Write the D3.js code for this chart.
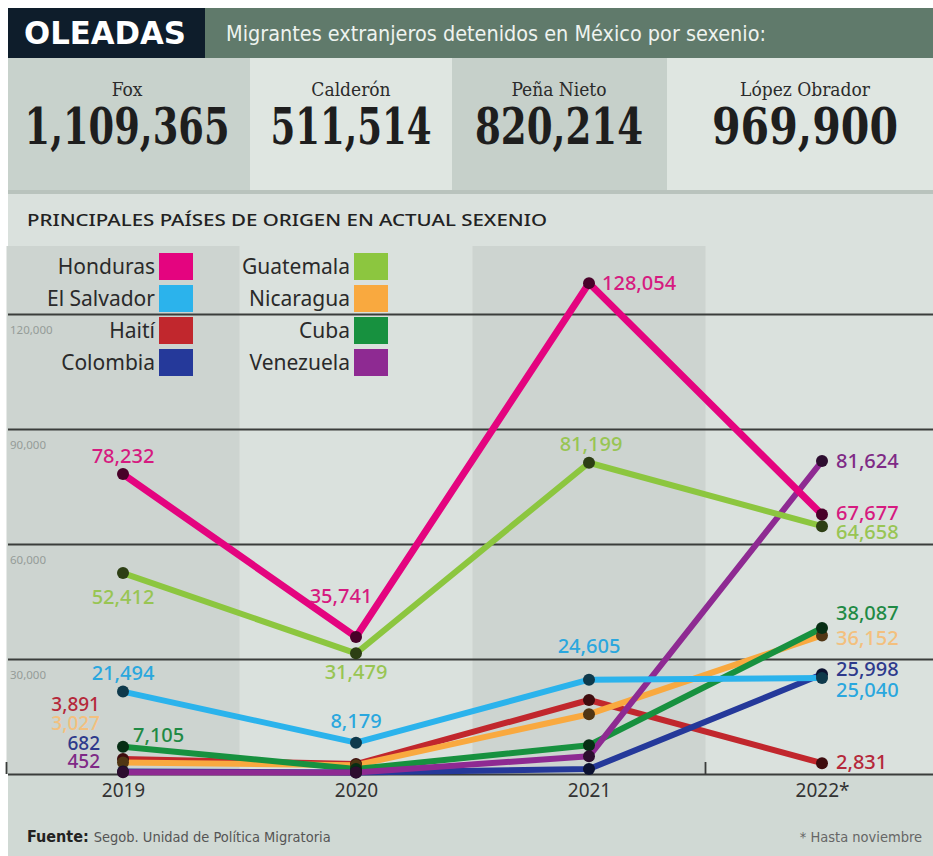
<!DOCTYPE html>
<html>
<head>
<meta charset="utf-8">
<script src="https://cdn.jsdelivr.net/npm/d3@7"></script>
<style>
  body { margin: 0; background: #fff; }
  svg { display: block; }
</style>
</head>
<body>
<svg width="933" height="856"></svg>
<script>
// Migrantes extranjeros detenidos, por sexenio y por país de origen
var sexenios = ["Fox", "Calderón", "Peña Nieto", "López Obrador"];
var totales = [1109365, 511514, 820214, 969900];

var years = ["2019", "2020", "2021", "2022*"];

var honduras   = [78232, 35741, 128054, 67677];
var guatemala  = [52412, 31479, 81199, 64658];
var elSalvador = [21494, 8179, 24605, 25040];
var haiti      = [3891, 2600, 19300, 2831];
var nicaragua  = [3027, 2300, 15600, 36152];
var cuba       = [7105, 1300, 7500, 38087];
var colombia   = [682, 400, 1300, 25998];
var venezuela  = [452, 400, 4600, 81624];

var yTicks = [0, 30000, 60000, 90000, 120000];

var series = [
  {name: "Haití", values: haiti, color: "#c1272d", label: "#b5283a"},
  {name: "Nicaragua", values: nicaragua, color: "#f9a93f", label: "#f3c07e"},
  {name: "Cuba", values: cuba, color: "#17913f", label: "#1f8a45"},
  {name: "Colombia", values: colombia, color: "#25399a", label: "#2e3a8c"},
  {name: "Venezuela", values: venezuela, color: "#8e2a92", label: "#7f2a86"},
  {name: "El Salvador", values: elSalvador, color: "#2bb3ec", label: "#2aa7de"},
  {name: "Guatemala", values: guatemala, color: "#8cc63f", label: "#98c553"},
  {name: "Honduras", values: honduras, color: "#e4047f", label: "#d61a80"}
];

var legendLeft = ["Honduras", "El Salvador", "Haití", "Colombia"];
var legendRight = ["Guatemala", "Nicaragua", "Cuba", "Venezuela"];

// where each value label sits relative to its point (null = no label)
var labelPos = {
  "Honduras":    [[0, -18, "middle"], [-15, -41, "middle"], [13, 0, "start"], [14, -2, "start"]],
  "Guatemala":   [[0, 24, "middle"], [0, 19, "middle"], [2, -19, "middle"], [14, 6, "start"]],
  "El Salvador": [[0, -19, "middle"], [0, -22, "middle"], [0, -34, "middle"], [14, 12, "start"]],
  "Haití":       [[-23, -55, "end"], null, null, [14, -1, "start"]],
  "Nicaragua":   [[-23, -39, "end"], null, null, [14, 3, "start"]],
  "Cuba":        [[10, -12, "start"], null, null, [14, -15, "start"]],
  "Colombia":    [[-23, -28, "end"], null, null, [14, -5, "start"]],
  "Venezuela":   [[-23, -11, "end"], null, null, [14, 0, "start"]]
};

var svg = d3.select("svg"),
    width = +svg.attr("width"),
    height = +svg.attr("height");

var sans = "'Noto Sans', 'Open Sans', sans-serif";
var narrow = "'Liberation Sans Narrow', 'DejaVu Sans Condensed', sans-serif";
var slab = "'DejaVu Serif Condensed', 'DejaVu Serif', serif";

var x = d3.scalePoint()
    .domain(years)
    .range([123, 822]);

var y = d3.scaleLinear()
    .domain([0, 120000])
    .range([774, 314]);

var colorOf = {};
series.forEach(function(s) { colorOf[s.name] = s.color; });

// backgrounds
svg.append("rect").attr("x", 8).attr("y", 8).attr("width", width - 8).attr("height", height - 8)
    .attr("fill", "#dae1dd");
svg.append("rect").attr("x", 8).attr("y", 774).attr("width", width - 8).attr("height", height - 774)
    .attr("fill", "#d0d9d4");

// header
svg.append("rect").attr("x", 8).attr("y", 8).attr("width", 197).attr("height", 50).attr("fill", "#0e1d2b");
svg.append("rect").attr("x", 205).attr("y", 8).attr("width", width - 205).attr("height", 50).attr("fill", "#607a6b");
svg.append("text").attr("x", 24).attr("y", 44)
    .attr("font-family", narrow).attr("font-weight", "bold").attr("font-size", 32)
    .attr("fill", "#fff").attr("textLength", 162).attr("lengthAdjust", "spacingAndGlyphs")
    .text("OLEADAS");
svg.append("text").attr("x", 226).attr("y", 41)
    .attr("font-family", narrow).attr("font-size", 21)
    .attr("fill", "#eef3ef").attr("textLength", 540).attr("lengthAdjust", "spacingAndGlyphs")
    .text("Migrantes extranjeros detenidos en México por sexenio:");

// sexenio panels
var panelX = [8, 250, 452, 667, 933];
var panelFill = ["#c8d2cc", "#dfe6e1", "#c6d0ca", "#dfe6e1"];
var numWidth = [205, 161, 168, 186];
var panels = svg.append("g").selectAll("g")
  .data(sexenios)
  .enter().append("g");
panels.append("rect")
    .attr("x", function(d, i) { return panelX[i]; })
    .attr("y", 58)
    .attr("width", function(d, i) { return panelX[i + 1] - panelX[i]; })
    .attr("height", 134)
    .attr("fill", function(d, i) { return panelFill[i]; });
var centers = [127, 351, 559, 805];
panels.append("text")
    .attr("x", function(d, i) { return centers[i]; })
    .attr("y", 96)
    .attr("text-anchor", "middle")
    .attr("font-family", slab).attr("font-size", 19).attr("fill", "#2b2b2b")
    .text(function(d) { return d; });
panels.append("text")
    .attr("x", function(d, i) { return centers[i]; })
    .attr("y", 144)
    .attr("text-anchor", "middle")
    .attr("font-family", slab).attr("font-weight", "bold").attr("font-size", 50)
    .attr("fill", "#1e1e1e")
    .attr("textLength", function(d, i) { return numWidth[i]; })
    .attr("lengthAdjust", "spacingAndGlyphs")
    .text(function(d, i) { return d3.format(",")(totales[i]); });
svg.append("rect").attr("x", 8).attr("y", 190).attr("width", width - 8).attr("height", 4)
    .attr("fill", "#b9c3bd");

svg.append("text").attr("x", 27).attr("y", 226)
    .attr("font-family", sans).attr("font-weight", 500).attr("font-size", 17)
    .attr("fill", "#222").attr("textLength", 520).attr("lengthAdjust", "spacingAndGlyphs")
    .text("PRINCIPALES PAÍSES DE ORIGEN EN ACTUAL SEXENIO");

// shaded year columns (2019, 2021)
var step = x.step();
svg.append("g").selectAll("rect")
  .data([years[0], years[2]])
  .enter().append("rect")
    .attr("x", function(d) { return x(d) - step / 2; })
    .attr("y", 246)
    .attr("width", step)
    .attr("height", 774 - 246)
    .attr("fill", "#cdd4d0");

// gridlines and y labels
var yAxis = svg.append("g")
    .attr("transform", "translate(8,0)")
    .call(d3.axisRight(y).tickValues(yTicks).tickSize(width - 8).tickFormat(d3.format(",")));
yAxis.select(".domain").remove();
yAxis.selectAll("line").attr("stroke", "#3a3d3b").attr("stroke-width", 1.8);
yAxis.selectAll("text")
    .attr("x", 2).attr("dy", 19)
    .attr("font-family", sans).attr("font-size", 11.5)
    .attr("fill", "#959c98")
    .style("display", function(d) { return d === 0 ? "none" : null; });

// small ticks on baseline
svg.append("g").selectAll("line")
  .data([x(years[0]) - step / 2, x(years[2]) + step / 2])
  .enter().append("line")
    .attr("x1", function(d) { return d; }).attr("x2", function(d) { return d; })
    .attr("y1", 762).attr("y2", 774)
    .attr("stroke", "#3a3d3b").attr("stroke-width", 1.8);

// x axis labels
var xAxis = svg.append("g")
    .attr("transform", "translate(0,774)")
    .call(d3.axisBottom(x).tickSize(0).tickPadding(10));
xAxis.select(".domain").remove();
xAxis.selectAll("text")
    .attr("font-family", sans).attr("font-size", 19).attr("fill", "#333");

// legend
var legend = svg.append("g");
function legendColumn(names, rightEdge) {
  var g = legend.append("g").selectAll("g")
    .data(names)
    .enter().append("g")
      .attr("transform", function(d, i) { return "translate(" + rightEdge + "," + (253 + i * 32) + ")"; });
  g.append("rect")
      .attr("x", 4).attr("y", 0).attr("width", 34).attr("height", 27)
      .attr("fill", function(d) { return colorOf[d]; });
  g.append("text")
      .attr("x", 0).attr("y", 14).attr("dy", "0.35em")
      .attr("text-anchor", "end")
      .attr("font-family", sans).attr("font-size", 21).attr("fill", "#2a2a2a")
      .text(function(d) { return d; });
}
legendColumn(legendLeft, 155);
legendColumn(legendRight, 350);

// lines
var line = d3.line()
    .x(function(d, i) { return x(years[i]); })
    .y(function(d) { return y(d); });

svg.append("g").selectAll("path")
  .data(series)
  .enter().append("path")
    .attr("d", function(d) { return line(d.values); })
    .attr("fill", "none")
    .attr("stroke", function(d) { return d.color; })
    .attr("stroke-width", function(d) { return d.name === "Honduras" ? 7 : 6; })
    .attr("stroke-linejoin", "round");

// dots
svg.append("g").selectAll("g")
  .data(series)
  .enter().append("g")
    .attr("fill", function(d) { return d3.color(d.color).darker(3.2); })
  .selectAll("circle")
  .data(function(d) { return d.values; })
  .enter().append("circle")
    .attr("cx", function(d, i) { return x(years[i]); })
    .attr("cy", function(d) { return y(d); })
    .attr("r", 6);

// value labels
var labels = [];
series.forEach(function(s) {
  s.values.forEach(function(v, i) {
    var p = labelPos[s.name][i];
    if (p) labels.push({v: v, i: i, p: p, color: s.label, left: i === 0 && p[2] === "end"});
  });
});
svg.append("g").selectAll("text")
  .data(labels)
  .enter().append("text")
    .attr("x", function(d) { return x(years[d.i]) + d.p[0]; })
    .attr("y", function(d) { return y(d.v) + d.p[1]; })
    .attr("dy", "0.35em")
    .attr("text-anchor", function(d) { return d.p[2]; })
    .attr("font-family", sans).attr("font-weight", 500)
    .attr("font-size", function(d) { return d.left ? 19 : 20; })
    .attr("fill", function(d) { return d.color; })
    .text(function(d) { return d3.format(",")(d.v); });

// footer
var foot = svg.append("text").attr("x", 27).attr("y", 842)
    .attr("font-family", narrow).attr("fill", "#555");
foot.append("tspan").attr("font-weight", "bold").attr("font-size", 16).attr("fill", "#222").text("Fuente: ");
foot.append("tspan").attr("font-size", 14.5).text("Segob. Unidad de Política Migratoria");
svg.append("text").attr("x", 922).attr("y", 842)
    .attr("text-anchor", "end")
    .attr("font-family", narrow).attr("font-size", 14.5).attr("fill", "#666")
    .text("* Hasta noviembre");
</script>
</body>
</html>
